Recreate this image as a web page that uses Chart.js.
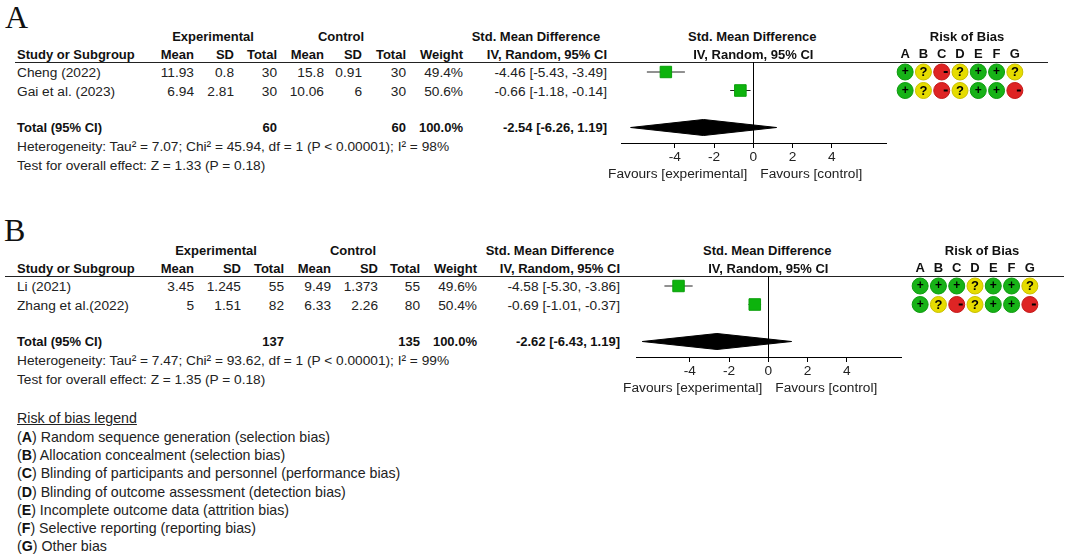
<!DOCTYPE html>
<html>
<head>
<meta charset="utf-8">
<script src="https://cdn.jsdelivr.net/npm/chart.js@4.4.1/dist/chart.umd.min.js"></script>
<style>
    html, body { margin: 0; padding: 0; background: #fff; }
    #page { position: relative; width: 1065px; height: 555px; overflow: hidden;
            font-family: 'Liberation Sans', Arial, sans-serif; font-size: 13.7px; color: #222; }
    .t { position: absolute; white-space: nowrap; line-height: 16px; }
    .b { font-weight: bold; color: #111; font-size: 13px; }
    .leg { font-size: 14.2px; }
    .lbl { font-family: 'Liberation Serif', 'Times New Roman', serif; font-size: 32px; color: #111; line-height: 30px; }
    .hr { position: absolute; height: 1px; background: #222; }
    canvas { position: absolute; }
</style>
</head>
<body>
<div id="page"></div>
<script>
'use strict';

// ---- Data: panel A ----
var studiesA = ['Cheng (2022)', 'Gai et al. (2023)'];
var expMeanA = [11.93, 6.94];
var expSdA = [0.8, 2.81];
var expNA = [30, 30];
var ctlMeanA = [15.8, 10.06];
var ctlSdA = [0.91, 6];
var ctlNA = [30, 30];
var weightA = [49.4, 50.6];
var smdA = [-4.46, -0.66];
var lowA = [-5.43, -1.18];
var highA = [-3.49, -0.14];
var totalA = [-2.54, -6.26, 1.19]; // estimate, lower, upper
var hetA = 'Heterogeneity: Tau\u00b2 = 7.07; Chi\u00b2 = 45.94, df = 1 (P < 0.00001); I\u00b2 = 98%';
var testA = 'Test for overall effect: Z = 1.33 (P = 0.18)';
var robA = [
    ['+', '?', '-', '?', '+', '+', '?'],
    ['+', '?', '-', '?', '+', '+', '-']
];

// ---- Data: panel B ----
var studiesB = ['Li (2021)', 'Zhang et al.(2022)'];
var expMeanB = [3.45, 5];
var expSdB = [1.245, 1.51];
var expNB = [55, 82];
var ctlMeanB = [9.49, 6.33];
var ctlSdB = [1.373, 2.26];
var ctlNB = [55, 80];
var weightB = [49.6, 50.4];
var smdB = [-4.58, -0.69];
var lowB = [-5.30, -1.01];
var highB = [-3.86, -0.37];
var totalB = [-2.62, -6.43, 1.19];
var hetB = 'Heterogeneity: Tau\u00b2 = 7.47; Chi\u00b2 = 93.62, df = 1 (P < 0.00001); I\u00b2 = 99%';
var testB = 'Test for overall effect: Z = 1.35 (P = 0.18)';
var robB = [
    ['+', '+', '+', '?', '+', '+', '?'],
    ['+', '?', '-', '?', '+', '+', '-']
];

// ---- Shared axis / legend ----
var axisTicks = [-4, -2, 0, 2, 4];
var robDomains = ['A', 'B', 'C', 'D', 'E', 'F', 'G'];
var robLegend = [
    'Random sequence generation (selection bias)',
    'Allocation concealment (selection bias)',
    'Blinding of participants and personnel (performance bias)',
    'Blinding of outcome assessment (detection bias)',
    'Incomplete outcome data (attrition bias)',
    'Selective reporting (reporting bias)',
    'Other bias'
];

// ---- Styles / layout ----
var FONT = "'Liberation Sans', Arial, sans-serif";
var GREEN = '#0db30d';
var ROB_COLORS = { '+': '#17b217', '?': '#e6dc00', '-': '#de2424' };
var ROB_BORDERS = { '+': '#0f9a0f', '?': '#c9c000', '-': '#c41a1a' };
var X_MIN = -6.75, PX_PER_UNIT = 19.6, FOREST_W = 266;
var ROW_H = 18.5, AXIS_H = 28;

// draws +, ? and - inside the risk of bias circles
var robSymbols = {
    id: 'robSymbols',
    afterDatasetsDraw: function(chart){
        var ctx = chart.ctx;
        var pts = chart.data.datasets[0].data;
        ctx.save();
        ctx.fillStyle = '#000';
        ctx.textAlign = 'center';
        ctx.textBaseline = 'middle';
        chart.getDatasetMeta(0).data.forEach(function(el, i){
            var j = pts[i].j;
            if (j === '+'){
                ctx.font = 'bold 12px ' + FONT;
                ctx.fillText('+', el.x, el.y);
            } else if (j === '?'){
                ctx.font = 'bold 13px ' + FONT;
                ctx.fillText('?', el.x, el.y + 0.5);
            } else {
                ctx.fillRect(el.x + 2, el.y - 1, 4, 2);
            }
        });
        ctx.restore();
    }
};

var page = document.getElementById('page');

_buildPanel('A', {
    studies: studiesA, expMean: expMeanA, expSd: expSdA, expN: expNA,
    ctlMean: ctlMeanA, ctlSd: ctlSdA, ctlN: ctlNA, weight: weightA,
    smd: smdA, low: lowA, high: highA, total: totalA, het: hetA, test: testA, rob: robA
}, {
    dy: 0, labelX: 5, labelY: 17, lineX0: 15, lineX1: 1048,
    cols: { mean: 194, sd: 234, n: 277, cmean: 324, csd: 362, cn: 406, w: 463, ci: 607 },
    expC: 213, ctlC: 341, smdC: 536, forestLeft: 621, robLeft: 896
});

_buildPanel('B', {
    studies: studiesB, expMean: expMeanB, expSd: expSdB, expN: expNB,
    ctlMean: ctlMeanB, ctlSd: ctlSdB, ctlN: ctlNB, weight: weightB,
    smd: smdB, low: lowB, high: highB, total: totalB, het: hetB, test: testB, rob: robB
}, {
    dy: 214, labelX: 4, labelY: 16, lineX0: 5, lineX1: 1064,
    cols: { mean: 194, sd: 241, n: 284, cmean: 331, csd: 378, cn: 420, w: 477, ci: 620 },
    expC: 216, ctlC: 353, smdC: 550, forestLeft: 636, robLeft: 911
});

_buildLegend(17, 418);

function _text(x, y, str, align, cls){
    var el = document.createElement('div');
    el.className = 't ' + (cls || '');
    el.textContent = str;
    el.style.left = x + 'px';
    el.style.top = y + 'px';
    var tx = align === 'right' ? '-100%' : (align === 'center' ? '-50%' : '0');
    el.style.transform = 'translate(' + tx + ',-50%)';
    page.appendChild(el);
    return el;
}

function _ci(est, lo, hi){
    return est.toFixed(2) + ' [' + lo.toFixed(2) + ', ' + hi.toFixed(2) + ']';
}

function _sum(arr){
    return arr.reduce(function(a, b){ return a + b; }, 0);
}

function _buildPanel(name, d, L){
    var dy = L.dy, c = L.cols;
    var row1 = 72 + dy;

    _text(L.labelX, L.labelY + dy, name, 'left', 'lbl');

    // header rows
    _text(L.expC, 37 + dy, 'Experimental', 'center', 'b');
    _text(L.ctlC, 37 + dy, 'Control', 'center', 'b');
    _text(L.smdC, 37 + dy, 'Std. Mean Difference', 'center', 'b');
    _text(17, 55 + dy, 'Study or Subgroup', 'left', 'b');
    _text(c.mean, 55 + dy, 'Mean', 'right', 'b');
    _text(c.sd, 55 + dy, 'SD', 'right', 'b');
    _text(c.n, 55 + dy, 'Total', 'right', 'b');
    _text(c.cmean, 55 + dy, 'Mean', 'right', 'b');
    _text(c.csd, 55 + dy, 'SD', 'right', 'b');
    _text(c.cn, 55 + dy, 'Total', 'right', 'b');
    _text(c.w, 55 + dy, 'Weight', 'right', 'b');
    _text(c.ci, 55 + dy, 'IV, Random, 95% CI', 'right', 'b');

    var hr = document.createElement('div');
    hr.className = 'hr';
    hr.style.left = L.lineX0 + 'px';
    hr.style.width = (L.lineX1 - L.lineX0) + 'px';
    hr.style.top = (62 + dy) + 'px';
    page.appendChild(hr);

    // study rows
    for (var i = 0; i < d.studies.length; i++){
        var y = row1 + i * ROW_H + 1;
        _text(17, y, d.studies[i], 'left');
        _text(c.mean, y, String(d.expMean[i]), 'right');
        _text(c.sd, y, String(d.expSd[i]), 'right');
        _text(c.n, y, String(d.expN[i]), 'right');
        _text(c.cmean, y, String(d.ctlMean[i]), 'right');
        _text(c.csd, y, String(d.ctlSd[i]), 'right');
        _text(c.cn, y, String(d.ctlN[i]), 'right');
        _text(c.w, y, d.weight[i].toFixed(1) + '%', 'right');
        _text(c.ci, y, _ci(d.smd[i], d.low[i], d.high[i]), 'right');
    }

    // total row
    var totalRow = d.studies.length + 2;
    var ty = row1 + (totalRow - 1) * ROW_H + 0.5;
    _text(17, ty, 'Total (95% CI)', 'left', 'b');
    _text(c.n, ty, String(_sum(d.expN)), 'right', 'b');
    _text(c.cn, ty, String(_sum(d.ctlN)), 'right', 'b');
    _text(c.w, ty, _sum(d.weight).toFixed(1) + '%', 'right', 'b');
    _text(c.ci, ty, _ci(d.total[0], d.total[1], d.total[2]), 'right', 'b');
    _text(17, 147 + dy, d.het, 'left');
    _text(17, 165.5 + dy, d.test, 'left');

    var zeroX = _forestChart(d, L, totalRow);
    _text(zeroX - 1, 37 + dy, 'Std. Mean Difference', 'center', 'b');
    _text(zeroX, 55 + dy, 'IV, Random, 95% CI', 'center', 'b');
    _text(zeroX - 6, 174 + dy, 'Favours [experimental]', 'right');
    _text(zeroX + 7, 174 + dy, 'Favours [control]', 'left');

    _robChart(d.rob, L);
    _text(L.robLeft + 71, 37 + dy, 'Risk of Bias', 'center', 'b');
}

function _forestChart(d, L, totalRow){
    var top = 62 + L.dy;
    var plotH = 81;
    var yMin = 1 - (72 - 62) / ROW_H;
    var yMax = yMin + plotH / ROW_H;
    var xMax = X_MIN + FOREST_W / PX_PER_UNIT;

    var canvas = document.createElement('canvas');
    canvas.width = FOREST_W;
    canvas.height = plotH + AXIS_H;
    canvas.style.left = L.forestLeft + 'px';
    canvas.style.top = top + 'px';
    page.appendChild(canvas);

    var datasets = [];
    // confidence interval whiskers (drawn below the squares)
    for (var i = 0; i < d.studies.length; i++){
        datasets.push({
            data: [{ x: d.low[i], y: i + 1 }, { x: d.high[i], y: i + 1 }],
            showLine: true, borderColor: '#222', borderWidth: 1, pointRadius: 0, order: 3
        });
    }
    // study squares, area follows weight
    datasets.push({
        data: d.smd.map(function(v, k){ return { x: v, y: k + 1 }; }),
        pointStyle: 'rect',
        pointRadius: d.weight.map(function(w){ return 11.5 * Math.sqrt(w / 50) / Math.SQRT2; }),
        backgroundColor: GREEN, borderColor: '#0a9f0a', borderWidth: 1, showLine: false, order: 1
    });
    // pooled diamond
    var h = 8 / ROW_H;
    datasets.push({
        data: [
            { x: d.total[1], y: totalRow },
            { x: d.total[0], y: totalRow - h },
            { x: d.total[2], y: totalRow },
            { x: d.total[0], y: totalRow + h },
            { x: d.total[1], y: totalRow }
        ],
        showLine: true, fill: 'shape', backgroundColor: '#000', borderColor: '#000',
        borderWidth: 1, pointRadius: 0, tension: 0, order: 2
    });

    var chart = new Chart(canvas, {
        type: 'scatter',
        data: { datasets: datasets },
        options: {
            responsive: false, animation: false,
            layout: { padding: 0, autoPadding: false },
            plugins: { legend: { display: false }, tooltip: { enabled: false } },
            scales: {
                x: {
                    type: 'linear', position: 'bottom', min: X_MIN, max: xMax,
                    afterBuildTicks: function(s){ s.ticks = axisTicks.map(function(v){ return { value: v }; }); },
                    afterFit: function(s){ s.height = AXIS_H; },
                    grid: {
                        drawOnChartArea: true, drawTicks: true, tickLength: 5, lineWidth: 1,
                        tickColor: '#000',
                        color: function(ctx){ return ctx.tick && ctx.tick.value === 0 ? '#000' : 'rgba(0,0,0,0)'; }
                    },
                    border: { display: true, color: '#000', width: 1 },
                    ticks: {
                        autoSkip: false, maxRotation: 0, padding: 1, color: '#222',
                        font: { family: FONT, size: 13.7 },
                        callback: function(v){ return String(v); }
                    }
                },
                y: { type: 'linear', display: false, reverse: true, min: yMin, max: yMax }
            }
        }
    });
    return L.forestLeft + chart.scales.x.getPixelForValue(0);
}

function _robChart(rob, L){
    var colW = 18.3;
    var canvas = document.createElement('canvas');
    canvas.width = Math.round(colW * robDomains.length);
    canvas.height = 58;
    canvas.style.left = L.robLeft + 'px';
    canvas.style.top = (44 + L.dy) + 'px';
    page.appendChild(canvas);

    var pts = [];
    rob.forEach(function(row, i){
        row.forEach(function(j, k){ pts.push({ x: robDomains[k], y: i + 1, j: j }); });
    });
    var yMin = 1 - (72 - 62) / ROW_H;

    new Chart(canvas, {
        type: 'scatter',
        data: {
            labels: robDomains,
            datasets: [{
                data: pts, pointRadius: 8, borderWidth: 1,
                backgroundColor: function(ctx){ return ctx.raw ? ROB_COLORS[ctx.raw.j] : '#000'; },
                borderColor: function(ctx){ return ctx.raw ? ROB_BORDERS[ctx.raw.j] : '#000'; }
            }]
        },
        options: {
            responsive: false, animation: false,
            layout: { padding: 0, autoPadding: false },
            plugins: { legend: { display: false }, tooltip: { enabled: false } },
            scales: {
                x: {
                    type: 'category', labels: robDomains, position: 'top', offset: true,
                    afterFit: function(s){ s.height = 18; },
                    grid: { display: false, drawTicks: false }, border: { display: false },
                    ticks: { padding: 0, color: '#111', font: { family: FONT, size: 13, weight: 'bold' } }
                },
                y: { type: 'linear', display: false, reverse: true, min: yMin, max: yMin + 40 / ROW_H }
            }
        },
        plugins: [robSymbols]
    });
}

function _buildLegend(x, y){
    var title = _text(x, y, 'Risk of bias legend', 'left', 'leg');
    title.style.textDecoration = 'underline';
    robLegend.forEach(function(txt, i){
        var el = _text(x, y + 19 + i * 18.2, '', 'left', 'leg');
        el.innerHTML = '(<b style="color:#111">' + robDomains[i] + '</b>) ' + txt;
    });
}
</script>
</body>
</html>
